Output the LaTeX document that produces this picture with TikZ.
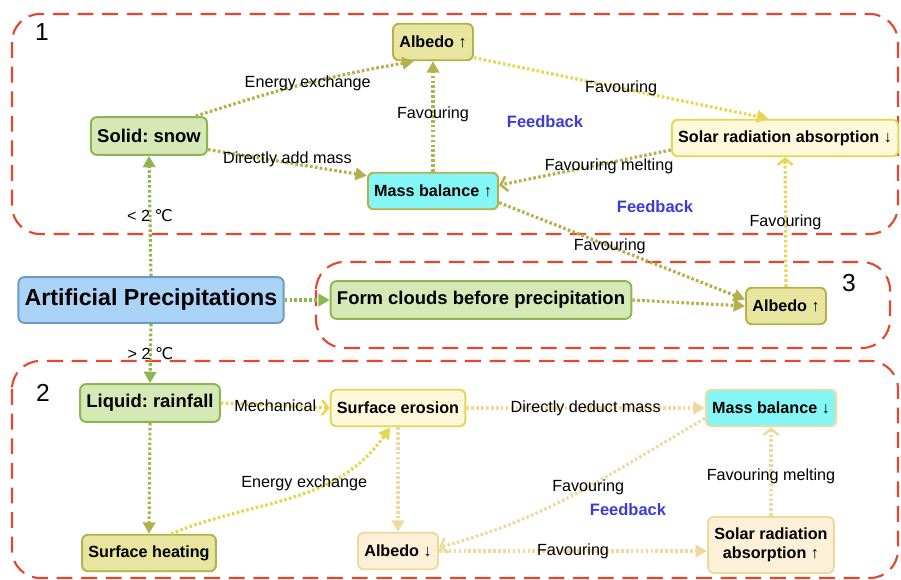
\documentclass[tikz,border=0pt]{standalone}
\usepackage{fontspec}
\setmainfont{Liberation Sans}
\newfontfamily\symfont{DejaVu Sans}
\usetikzlibrary{arrows.meta}
\frenchspacing

\definecolor{zonered}{HTML}{E2472F}
\definecolor{greenfill}{HTML}{D5E8B5}
\definecolor{greenline}{HTML}{8DB650}
\definecolor{olivefill}{HTML}{E8E5A0}
\definecolor{oliveline}{HTML}{B4B04B}
\definecolor{yellowfill}{HTML}{FFF9DC}
\definecolor{yellowline}{HTML}{E6D650}
\definecolor{peachfill}{HTML}{FCF1D8}
\definecolor{peachline}{HTML}{EFDA9E}
\definecolor{cyanfill}{HTML}{84F6F6}
\definecolor{bluefill}{HTML}{ABD3F8}
\definecolor{blueline}{HTML}{6C9BC4}
\definecolor{feedblue}{HTML}{3B3BD9}

\begin{document}
\begin{tikzpicture}[x=0.02cm,y=-0.02cm,
  zone/.style={draw=zonered,line width=1.2pt,dash pattern=on 9pt off 5pt,rounded corners=16pt},
  box/.style={draw,rounded corners=3.4pt,line width=1.1pt,inner xsep=3.6pt,inner ysep=2pt,
    align=center,font=\bfseries\fontsize{9.2}{11}\selectfont,minimum height=20.8pt},
  greenbox/.style={box,fill=greenfill,draw=greenline,font=\bfseries\fontsize{10.5}{12}\selectfont,minimum height=21.5pt},
  olivebox/.style={box,fill=olivefill,draw=oliveline},
  yellowbox/.style={box,fill=yellowfill,draw=yellowline},
  peachbox/.style={box,fill=peachfill,draw=peachline},
  lbl/.style={font=\fontsize{9.2}{11}\selectfont,inner sep=1pt},
  feedback/.style={text=feedblue,font=\bfseries\fontsize{9.4}{11}\selectfont},
  zonenum/.style={font=\fontsize{14}{16}\selectfont},
  dots/.style={line width=1.8pt,dash pattern=on 1.5pt off 1.3pt},
  shut/.style={-{Triangle[length=6.5pt,width=7pt]}},
  open/.style={-{Straight Barb[length=3.5pt,width=8.5pt,line width=1.4pt]}},
  greenlink/.style={dots,draw=greenline,shut},
  olivelink/.style={dots,draw=oliveline,shut},
  yellowlink/.style={dots,draw=yellowline,shut},
  peachlink/.style={dots,draw=peachline,shut}]

  \useasboundingbox (0,0) rectangle (901,580);

  % dashed zones
  \draw[zone] (12,14) rectangle (898,234);
  \draw[zone] (316,262) rectangle (890,348);
  \draw[zone] (12,361) rectangle (898,578);
  \node[zonenum] (num1) at (42,32) {1};
  \node[zonenum] (num2) at (43,393) {2};
  \node[zonenum] (num3) at (849,283) {3};

  % nodes
  \node[box,fill=bluefill,draw=blueline,font=\bfseries\fontsize{13.2}{15}\selectfont,minimum height=26pt] (ap) at (151,300) {Artificial Precipitations};
  \node[greenbox] (snow) at (149,136) {Solid: snow};
  \node[olivebox] (alb1) at (433,42) {Albedo ↑};
  \node[box,fill=cyanfill,draw=oliveline] (massup) at (433,191) {Mass balance ↑};
  \node[yellowbox] (solardown) at (785,138) {Solar radiation absorption ↓};
  \node[greenbox] (clouds) at (481,300) {Form clouds before precipitation};
  \node[olivebox] (alb3) at (786,306) {Albedo ↑};
  \node[greenbox] (rain) at (150,403) {Liquid: rainfall};
  \node[yellowbox] (erosion) at (398,408) {Surface erosion};
  \node[box,fill=cyanfill,draw=peachline] (massdown) at (771,408) {Mass balance ↓};
  \node[olivebox] (heating) at (149,553) {Surface heating};
  \node[peachbox] (albdown) at (398,551) {Albedo ↓};
  \node[peachbox,minimum height=32pt] (solarup) at (771,545) {Solar radiation\\absorption ↑};

  \node[feedback] (fb1) at (545,122) {Feedback};
  \node[feedback] (fb2) at (655,207) {Feedback};
  \node[feedback] (fb3) at (628,510) {Feedback};

  % zone 1
  \draw[greenlink] (ap.north) -- node[lbl,pos=0.5] {< 2 {\symfont ℃}} (snow.south);
  \draw[olivelink] (snow.23) to[bend left=4] node[lbl,pos=0.52] {Energy exchange} (alb1.225);
  \draw[olivelink] (snow.-13) -- node[lbl,pos=0.5,yshift=2pt] {Directly add mass} (massup.167);
  \draw[olivelink] (massup.north) -- node[lbl,pos=0.52] {Favouring} (alb1.south);
  \draw[yellowlink] (alb1.-21) -- node[lbl,pos=0.5] {Favouring} (solardown.131);
  \draw[dots,draw=oliveline,open] (solardown.186) -- node[lbl,pos=0.36,yshift=-2pt] {Favouring melting} (massup.5);

  % zone 3
  \draw[greenlink] (ap.east) -- (clouds.west);
  \draw[olivelink] (clouds.east) -- (alb3.west);
  \draw[olivelink] (massup.-10) -- node[lbl,pos=0.45] {Favouring} (alb3.171);
  \draw[dots,draw=yellowline,open] (alb3.north) -- node[lbl,pos=0.5] {Favouring} (solardown.south);

  % zone 2
  \draw[greenlink] (ap.south) -- node[lbl,pos=0.5] {> 2 {\symfont ℃}} (rain.north);
  \draw[dots,draw=yellowline,open] (rain.east) -- node[lbl,pos=0.5] {Mechanical} (erosion.west);
  \draw[olivelink] (rain.south) -- (heating.north);
  \draw[yellowlink] (heating.41) to[out=22,in=235] node[lbl,pos=0.55,yshift=5pt] {Energy exchange} (erosion.248);
  \draw[peachlink] (erosion.south) -- (albdown.north);
  \draw[peachlink] (erosion.east) -- node[lbl,pos=0.5] {Directly deduct mass} (massdown.west);
  \draw[dots,draw=peachline,open] (massdown.189) to[out=210,in=15] node[lbl,pos=0.45] {Favouring} (albdown.5);
  \draw[peachlink] (albdown.east) -- node[lbl,pos=0.5] {Favouring} (albdown.east -| solarup.west);
  \draw[dots,draw=peachline,open] (solarup.north) -- node[lbl,pos=0.45] {Favouring melting} (massdown.south);
\end{tikzpicture}
\end{document}
